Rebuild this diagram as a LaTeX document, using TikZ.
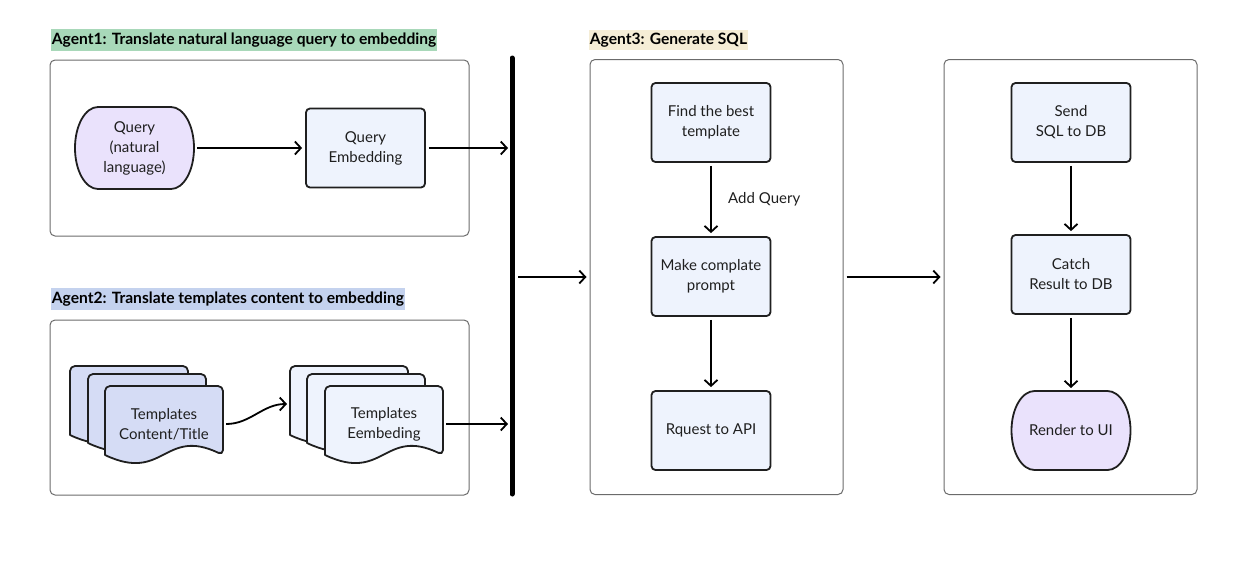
\documentclass[tikz,border=0pt]{standalone}
\usepackage{fontspec}
\setmainfont{Lato}
\usetikzlibrary{arrows.meta,backgrounds}

\definecolor{ink}{HTML}{1F1F1F}
\definecolor{frame}{HTML}{6B6B6B}
\definecolor{boxblue}{HTML}{EEF3FD}
\definecolor{docblue}{HTML}{D5DCF5}
\definecolor{lavender}{HTML}{EAE2FC}
\definecolor{mintbar}{HTML}{A8D8B9}
\definecolor{skybar}{HTML}{C4D2EE}
\definecolor{sandbar}{HTML}{F5EDD6}

\newcommand{\docsheet}[3]{\filldraw[sheet,fill=#3,shift={(#1,#2)}] (0,-69) [rounded corners=5pt]-- (0,0) -- (118,0) -- (118,-69) [sharp corners] .. controls (59,-41) and (59,-97) .. (0,-69) -- cycle;}
\newcommand{\capsule}[2]{\begin{pgfonlayer}{background}
  \filldraw[capline] ([xshift=23pt]#1.north west) -- ([xshift=-23pt]#1.north east)
    arc[start angle=90,end angle=-90,x radius=23pt,y radius=#2pt]
    -- ([xshift=23pt]#1.south west)
    arc[start angle=270,end angle=90,x radius=23pt,y radius=#2pt] -- cycle;
  \end{pgfonlayer}}

\begin{document}
\begin{tikzpicture}[->,>={Straight Barb[length=6pt,width=13pt]},shorten >=3pt,shorten <=3pt,
                    line width=1.8pt,x=1pt,y=1pt,node distance=154pt]
  \tikzstyle{agent}=[rectangle,rounded corners=5pt,draw=frame,line width=1pt]
  \tikzstyle{heading}=[anchor=west,inner xsep=1pt,minimum height=20pt,text=black,font=\fontsize{15.6}{18}\selectfont\bfseries]
  \tikzstyle{task}=[rectangle,rounded corners=4pt,draw=ink,line width=1.8pt,fill=boxblue,text=ink,align=center,minimum width=119pt,minimum height=79pt,font=\fontsize{15}{20}\selectfont]
  \tikzstyle{terminal}=[rectangle,outer sep=0pt,text=ink,align=center,minimum width=119pt,minimum height=79pt,font=\fontsize{15}{20}\selectfont]
  \tikzstyle{capline}=[-,shorten >=0pt,shorten <=0pt,draw=ink,fill=lavender,line width=1.8pt]
  \tikzstyle{sheet}=[-,shorten >=0pt,shorten <=0pt,draw=ink,line width=1.8pt,line join=round]
  \tikzstyle{doctext}=[align=center,text=ink,minimum width=118pt,minimum height=77pt,font=\fontsize{15}{20}\selectfont]
  \tikzstyle{bar}=[-,shorten >=0pt,shorten <=0pt,line width=5pt,line cap=round]

  \useasboundingbox (0,0) rectangle (1237,-571);

  \node[heading,fill=mintbar] (head1) at (50,-40) {Agent1: Translate natural language query to embedding};
  \node[heading,fill=skybar]  (head2) at (50,-299) {Agent2: Translate templates content to embedding};
  \node[heading,fill=sandbar] (head3) at (588,-40) {Agent3: Generate SQL};

  \node[agent,minimum width=419pt,minimum height=176pt] (agentA) at (259.5,-148) {};
  \node[agent,minimum width=419pt,minimum height=175pt] (agentB) at (259.5,-407.5) {};
  \node[agent,minimum width=253pt,minimum height=435pt] (agentC) at (716.5,-277) {};
  \node[agent,minimum width=253pt,minimum height=435pt] (agentD) at (1070.5,-277) {};

  \node[terminal,minimum height=82pt] (query) at (134.5,-148) {Query\\(natural\\language)};
  \node[task]          (qemb) [right of=query, node distance=231pt] {Query\\Embedding};
  \capsule{query}{41}

  \docsheet{70}{-366}{docblue}
  \docsheet{88}{-374}{docblue}
  \docsheet{105}{-386}{docblue}
  \docsheet{290}{-366}{boxblue}
  \docsheet{307}{-374}{boxblue}
  \docsheet{325}{-386}{boxblue}
  \node[doctext]       (tplA) at (164,-424) {Templates\\Content/Title};
  \node[doctext]       (tplB) at (384,-424) {Templates\\Eembeding};

  \draw[bar] (512,-58) coordinate (barTop) -- (512,-494) coordinate (barBot);
  \coordinate (inA) at (511,-148);
  \coordinate (inB) at (511,-424);
  \coordinate (barOut) at (515,-277);
  \coordinate (tplBin) at (290,-404);

  \node[task]          (find) at (711,-122.5) {Find the best\\template};
  \node[task]          (prompt) [below of=find] {Make complate\\prompt};
  \node[task]          (api) [below of=prompt] {Rquest to API};

  \node[task]          (send) at (1071,-122.5) {Send\\SQL to DB};
  \node[task]          (catch) [below of=send, yshift=2pt] {Catch\\Result to DB};
  \node[terminal]      (render) [below of=catch, yshift=-2pt] {Render to UI};
  \capsule{render}{39.5}

  \path[line width=1.8pt]
        (query) edge              (qemb)
        (qemb) edge               (inA)
        (tplA) edge [out=0,in=180] (tplBin)
        (tplB) edge               (inB)
        (barOut) edge             (agentC)
        (agentC) edge             (agentD)
        (find) edge               node [right, xshift=13pt, font=\fontsize{15}{20}\selectfont, text=ink] {Add Query} (prompt)
        (prompt) edge             (api)
        (send) edge               (catch)
        (catch) edge              (render);
\end{tikzpicture}
\end{document}
